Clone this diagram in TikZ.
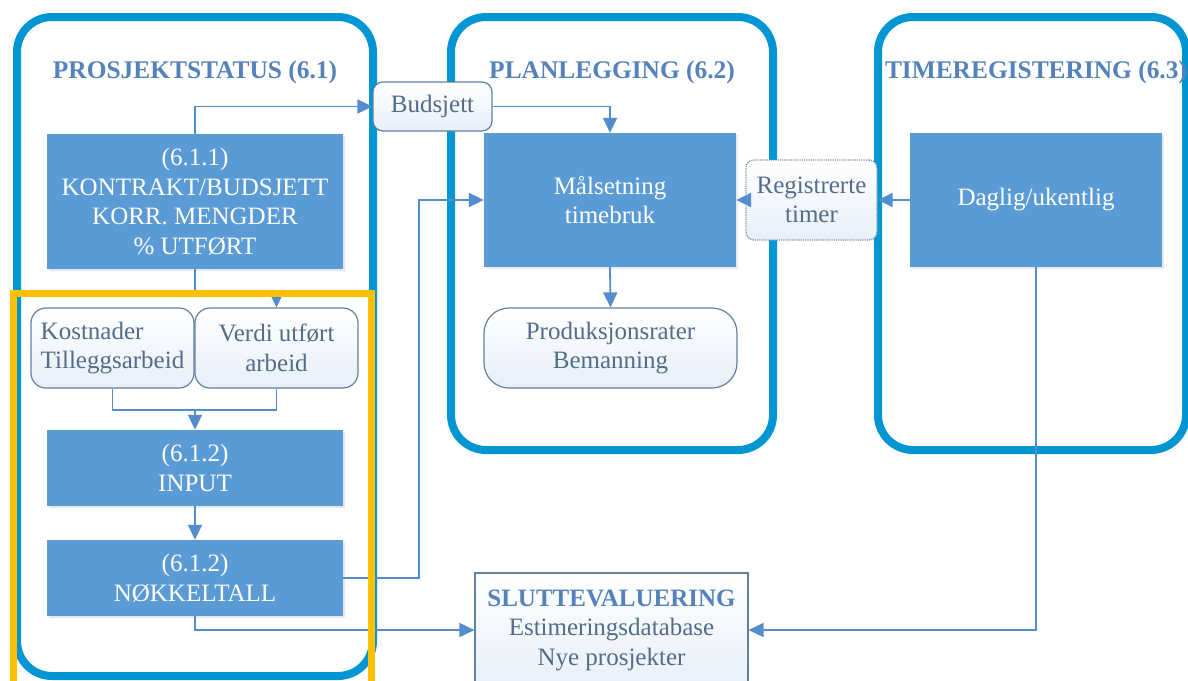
\documentclass[tikz,border=0pt]{standalone}
\usepackage{fontspec}
\setmainfont{Liberation Serif}
\usetikzlibrary{arrows.meta,shadows}
\definecolor{panelblue}{RGB}{0,150,212}
\definecolor{boxblue}{RGB}{91,155,213}
\definecolor{lineblue}{RGB}{84,141,205}
\definecolor{titleblue}{RGB}{84,130,186}
\definecolor{textgrey}{RGB}{82,108,138}
\definecolor{edgegrey}{RGB}{98,128,160}
\definecolor{gradblue}{RGB}{232,239,248}
\definecolor{frameyellow}{RGB}{255,192,0}
\tikzset{
  panel/.style={draw=panelblue, line width=8pt, rounded corners=35pt},
  fillbox/.style={fill=boxblue, text=white, inner sep=0pt, align=center,
    drop shadow={opacity=0.18, shadow xshift=1.5pt, shadow yshift=-1.5pt}},
  softbox/.style={draw=edgegrey, line width=1.2pt, top color=white, bottom color=gradblue,
    text=textgrey, inner sep=0pt, align=center},
  heading/.style={text=titleblue, font=\bfseries\fontsize{25.4}{29}\selectfont},
  arr/.style={draw=lineblue, line width=1.8pt, -{Triangle[length=15pt,width=14pt]}},
  conn/.style={draw=lineblue, line width=1.8pt},
}
\begin{document}
\begin{tikzpicture}[x=1pt,y=-1pt,font=\fontsize{25}{29.5}\selectfont]
\useasboundingbox (0,0) rectangle (1188,680);
\clip (0,0) rectangle (1188,680);
\fill[white] (0,0) rectangle (1188,680);
% panels
\draw[panel] (17,17) rectangle (373,676);
\draw[panel] (451,17) rectangle (773,450);
\draw[panel] (878,17) rectangle (1186,450);
% headings
\node[heading] (h1) at (195,72) {PROSJEKTSTATUS (6.1)};
\node[heading] (h2) at (612,72) {PLANLEGGING (6.2)};
\node[heading] (h3) at (1036,72) {TIMEREGISTERING (6.3)};
% filled boxes
\node[fillbox, minimum width=296pt, minimum height=135pt] (kontrakt) at (195,201.5)
  {(6.1.1)\\KONTRAKT/BUDSJETT\\KORR. MENGDER\\\% UTFØRT};
\node[fillbox, minimum width=252pt, minimum height=134pt] (maal) at (610,200)
  {Målsetning\\timebruk};
\node[fillbox, minimum width=252pt, minimum height=134pt] (daglig) at (1036,200)
  {Daglig/ukentlig};
\node[fillbox, minimum width=296pt, minimum height=76pt] (input) at (195,468)
  {(6.1.2)\\INPUT};
\node[fillbox, minimum width=296pt, minimum height=76pt] (nokkel) at (195,578)
  {(6.1.2)\\NØKKELTALL};
% soft boxes
\node[softbox, rounded corners=10pt, minimum width=119pt, minimum height=49pt] (budsjett) at (432.5,106.5) {Budsjett};
\node[softbox, rounded corners=15pt, minimum width=163pt, minimum height=80pt, align=left] (kost) at (112.5,348) {Kostnader\\Tilleggsarbeid};
\node[softbox, rounded corners=15pt, minimum width=163pt, minimum height=80pt] (verdi) at (276.5,348) {Verdi utført\\arbeid};
\node[softbox, rounded corners=25pt, minimum width=253pt, minimum height=80pt] (prod) at (610.5,348) {Produksjonsrater\\Bemanning};
\node[softbox, draw=edgegrey!80, densely dotted, line width=1.4pt, rounded corners=8pt, minimum width=131pt, minimum height=80pt] (reg) at (811.5,200) {Registrerte\\timer};
\node[softbox, rounded corners=0pt, minimum width=273pt, minimum height=114pt] (slutt) at (611.5,630)
  {{\bfseries\color{titleblue}SLUTTEVALUERING}\\Estimeringsdatabase\\Nye prosjekter};
% connectors
\coordinate (join) at (195,410);
\draw[arr] (kontrakt.north) |- (budsjett.west);
\draw[arr] (budsjett.east) -| (maal.north);
\draw[arr] (kontrakt.south) -- ++(0,27) -| (verdi.north);
\draw[conn] (kost.south) |- (join) -| (verdi.south);
\draw[arr] (join) -- (input.north);
\draw[arr] (input.south) -- (nokkel.north);
\draw[arr] (nokkel.east) -- ++(76,0) |- (maal.west);
\draw[arr] (nokkel.south) |- (slutt.west);
\draw[arr] (daglig.south) |- (slutt.east);
\draw[arr] (daglig.west) -- (reg.east);
\draw[arr] (reg.west) -- (maal.east);
\draw[arr] (maal.south) -- (prod.north);
% yellow frame
\draw[draw=frameyellow, line width=7pt] (13.5,293) rectangle (371.5,700);
\end{tikzpicture}
\end{document}
